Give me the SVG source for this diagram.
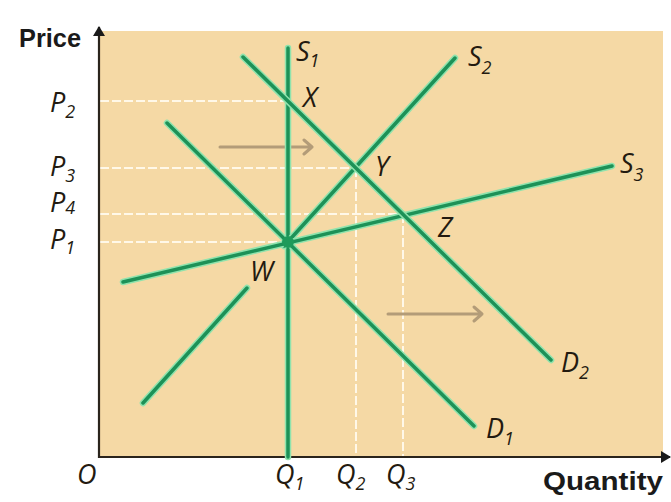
<svg xmlns="http://www.w3.org/2000/svg" width="671" height="502" viewBox="0 0 671 502">
<style>
.lbl{font-family:"Open Sans","Noto Sans",sans-serif;font-style:italic;font-size:27px;fill:#231a10}
.sub{font-size:18px}
.axlbl{font-family:"Liberation Sans",Arial,sans-serif;font-weight:bold;font-size:26px;fill:#1a1a1a}
.halo{stroke:#8fe3ad;stroke-width:6.5;fill:none;stroke-linecap:round}
.curve{stroke:#1d9157;stroke-width:3.5;fill:none;stroke-linecap:round}
.guide{stroke:#fff8e8;stroke-width:2;stroke-dasharray:9 3;fill:none}
.shift{stroke:#b39c78;stroke-width:3;fill:none;stroke-linecap:round;stroke-linejoin:round}
.axis{stroke:#2a241c;stroke-width:2.2;fill:none}
</style>
<defs>
<marker id="axhead" markerWidth="10" markerHeight="14" refX="9" refY="7" orient="auto" markerUnits="userSpaceOnUse">
<path d="M0,1 L10,7 L0,13 Z" fill="#1a1a1a"/>
</marker>
</defs>
<rect width="671" height="502" fill="#ffffff"/>
<rect id="panel" x="99" y="31" width="564" height="426" fill="#f5d9a5"/>

<g id="guides">
<line class="guide" x1="100" y1="101" x2="288" y2="101"/>
<line class="guide" x1="100" y1="168" x2="356" y2="168"/>
<line class="guide" x1="100" y1="214" x2="403" y2="214"/>
<line class="guide" x1="100" y1="242" x2="288" y2="242"/>
<line class="guide" x1="356" y1="168" x2="356" y2="456"/>
<line class="guide" x1="403" y1="214" x2="403" y2="456"/>
</g>

<g id="axes">
<line class="axis" x1="99" y1="458" x2="99" y2="27" marker-end="url(#axhead)"/>
<line class="axis" x1="98" y1="457" x2="670" y2="457" marker-end="url(#axhead)"/>
<text class="axlbl" x="19" y="47" textLength="62" lengthAdjust="spacingAndGlyphs">Price</text>
<text class="axlbl" x="543" y="490" textLength="120" lengthAdjust="spacingAndGlyphs">Quantity</text>
<text class="lbl" x="77" y="484">O</text>
</g>

<g id="connectors">
<path class="shift" d="M220,147 L312,147 M304,140 L312,147 L304,154"/>
<path class="shift" d="M388,314 L482,314 M474,307 L482,314 L474,321"/>
</g>

<g id="S1">
<line class="halo" x1="288" y1="48" x2="288" y2="457"/>
<line class="curve" x1="288" y1="48" x2="288" y2="457"/>
<text class="lbl" x="296" y="61">S<tspan class="sub" dy="6">1</tspan></text>
</g>
<g id="S2">
<path class="halo" d="M143,403 L247,288 M284,246 L455,58"/>
<path class="curve" d="M143,403 L247,288 M284,246 L455,58"/>
<text class="lbl" x="468" y="66">S<tspan class="sub" dy="8">2</tspan></text>
</g>
<g id="S3">
<line class="halo" x1="123" y1="282" x2="612" y2="166"/>
<line class="curve" x1="123" y1="282" x2="612" y2="166"/>
<text class="lbl" x="620" y="173">S<tspan class="sub" dy="8">3</tspan></text>
</g>
<g id="D1">
<line class="halo" x1="167" y1="123" x2="474" y2="426"/>
<line class="curve" x1="167" y1="123" x2="474" y2="426"/>
<text class="lbl" x="486" y="438">D<tspan class="sub" dy="7">1</tspan></text>
</g>
<g id="D2">
<line class="halo" x1="243" y1="57" x2="551" y2="360"/>
<line class="curve" x1="243" y1="57" x2="551" y2="360"/>
<text class="lbl" x="561" y="372">D<tspan class="sub" dy="7">2</tspan></text>
</g>

<g id="W">
<circle cx="288" cy="242" r="6" fill="#1d9a5a"/>
<text class="lbl" x="250" y="281">W</text>
</g>
<g id="X"><text class="lbl" x="303" y="107">X</text></g>
<g id="Y"><text class="lbl" x="375" y="176">Y</text></g>
<g id="Z"><text class="lbl" x="438" y="237">Z</text></g>

<g id="price-labels">
<text class="lbl" x="50" y="112">P<tspan class="sub" dy="6">2</tspan></text>
<text class="lbl" x="50" y="176">P<tspan class="sub" dy="6">3</tspan></text>
<text class="lbl" x="50" y="212">P<tspan class="sub" dy="2">4</tspan></text>
<text class="lbl" x="50" y="249">P<tspan class="sub" dy="5">1</tspan></text>
</g>
<g id="qty-labels">
<text class="lbl" x="275" y="484">Q<tspan class="sub" dy="6">1</tspan></text>
<text class="lbl" x="336" y="484">Q<tspan class="sub" dy="6">2</tspan></text>
<text class="lbl" x="386" y="484">Q<tspan class="sub" dy="6">3</tspan></text>
</g>
</svg>
